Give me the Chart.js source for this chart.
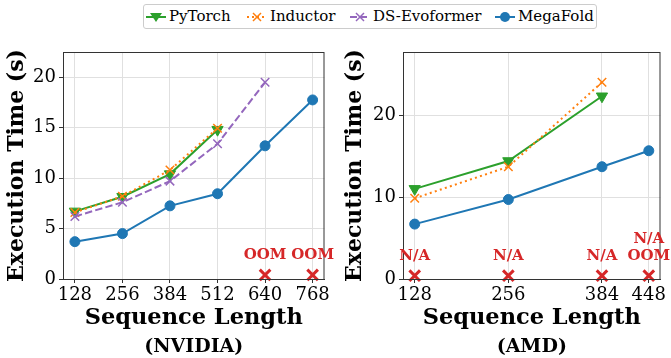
<!DOCTYPE html>
<html>
<head>
<meta charset="utf-8">
<script src="https://cdn.jsdelivr.net/npm/chart.js@4"></script>
<style>
  body { margin: 0; width: 671px; height: 358px; background: #fff; position: relative; overflow: hidden; font-family: "DejaVu Serif", serif; }
  canvas { position: absolute; top: 0; }
  #left { left: 0; }
  #right { left: 335px; }
  #legend { position: absolute; left: 143px; top: 4px; width: 452px; height: 23px; border: 1px solid #ccc; border-radius: 3px; background: #fff; z-index: 2; font-size: 15px; }
  .item { position: absolute; top: 2px; white-space: nowrap; line-height: 19px; }
  .item svg { position: absolute; left: 0; top: 1px; }
  .item span { position: absolute; left: 23px; }
</style>
</head>
<body>
<div id="legend"></div>
<canvas id="left" width="335" height="358"></canvas>
<canvas id="right" width="336" height="358"></canvas>
<script>
  // NVIDIA
  const nvX = [128, 256, 384, 512, 640, 768];
  const nvPyTorch = [6.7, 8.15, 10.4, 14.8];
  const nvInductor = [6.6, 8.2, 10.8, 14.95];
  const nvEvoformer = [6.2, 7.6, 9.7, 13.4, 19.5];
  const nvMegaFold = [3.7, 4.5, 7.25, 8.45, 13.2, 17.75];
  const nvMarkX = [640, 768];
  const nvMarkLabels = [['OOM'], ['OOM']];

  // AMD
  const amdX = [128, 256, 384, 448];
  const amdPyTorch = [11.0, 14.4, 22.3];
  const amdInductor = [9.85, 13.7, 24.0];
  const amdMegaFold = [6.7, 9.7, 13.7, 15.65];
  const amdMarkX = [128, 256, 384, 448];
  const amdMarkLabels = [['N/A'], ['N/A'], ['N/A'], ['N/A', 'OOM']];

  const markY = 0.4;
  const C = { pytorch: '#2ca02c', inductor: '#ff7f0e', evo: '#9467bd', mega: '#1f77b4', red: '#d62728' };
  const FONT = 'DejaVu Serif';

  const pts = (xs, ys) => ys.map((y, i) => ({ x: xs[i], y: y }));

  function series(label, xs, ys, color, style, dash, order) {
    return {
      label: label,
      data: pts(xs, ys),
      borderColor: color,
      backgroundColor: color,
      borderWidth: 2,
      borderDash: dash,
      pointStyle: style,
      pointRotation: style === 'triangle' ? 180 : 0,
      pointRadius: style === 'circle' ? 5 : (style === 'triangle' ? 6.5 : 6),
      pointBorderWidth: style === 'crossRot' ? 1.5 : 1,
      tension: 0,
      order: order,
    };
  }

  function marks(xs, labels) {
    return {
      label: 'marks',
      data: xs.map(x => ({ x: x, y: markY })),
      showLine: false,
      pointStyle: 'crossRot',
      pointRadius: 7.5,
      pointBorderWidth: 3,
      borderColor: C.red,
      backgroundColor: C.red,
      clip: false,
      order: 0,
      markLabels: labels,
    };
  }

  // frame round the plot area, red OOM / N/A labels, subtitle under the axis title
  const extras = {
    id: 'extras',
    afterDatasetsDraw(chart, args, opts) {
      const { ctx, chartArea: a } = chart;
      ctx.save();
      ctx.strokeStyle = '#333';
      ctx.lineWidth = 1;
      ctx.strokeRect(a.left + 0.5, a.top + 0.5, a.right - a.left - 1, a.bottom - a.top);
      ctx.textAlign = 'center';
      ctx.textBaseline = 'middle';
      chart.data.datasets.forEach((ds, i) => {
        if (!ds.markLabels) return;
        const meta = chart.getDatasetMeta(i);
        ctx.fillStyle = C.red;
        ctx.font = 'bold 15px "' + FONT + '"';
        meta.data.forEach((p, j) => {
          const lines = ds.markLabels[j];
          lines.forEach((t, k) => {
            ctx.fillText(t, p.x, p.y - 20 - (lines.length - 1 - k) * 17);
          });
        });
      });
      ctx.fillStyle = '#000';
      ctx.font = 'bold 19px "' + FONT + '"';
      ctx.fillText(opts.subtitle, (a.left + a.right) / 2, 347);
      ctx.restore();
    }
  };

  function makeChart(id, datasets, xMin, xMax, xTicks, yMax, yStep, yWidth, yTitlePad, padRight, subtitle) {
    return new Chart(document.getElementById(id), {
      type: 'line',
      data: { datasets: datasets },
      options: {
        responsive: false,
        animation: false,
        layout: { padding: { top: 52, right: padRight, left: 0, bottom: 0 } },
        plugins: {
          legend: { display: false },
          tooltip: { enabled: false },
          extras: { subtitle: subtitle },
        },
        scales: {
          x: {
            type: 'linear',
            min: xMin,
            max: xMax,
            afterBuildTicks: s => { s.ticks = xTicks.map(v => ({ value: v })); },
            afterFit: s => { s.height = 79; },
            ticks: { color: '#000', font: { family: FONT, size: 18 }, padding: 2, maxRotation: 0 },
            grid: { color: '#e0e0e0', borderDash: [2, 2], tickLength: 4, tickColor: '#333', tickBorderDash: [] },
            border: { color: '#333', width: 1 },
            title: {
              display: true,
              text: 'Sequence Length',
              color: '#000',
              font: { family: FONT, size: 22.5, weight: 'bold', lineHeight: 1.2 },
              padding: { top: 0, bottom: 26 },
            },
          },
          y: {
            min: 0,
            max: yMax,
            afterBuildTicks: s => { s.ticks = s.ticks.filter(t => t.value % yStep === 0); },
            afterFit: s => { s.width = yWidth; },
            ticks: { stepSize: yStep, color: '#000', font: { family: FONT, size: 18 }, padding: 3 },
            grid: { color: '#e0e0e0', borderDash: [2, 2], tickLength: 4, tickColor: '#333', tickBorderDash: [] },
            border: { color: '#333', width: 1 },
            title: {
              display: true,
              text: 'Execution Time (s)',
              color: '#000',
              font: { family: FONT, size: 22, weight: 'bold', lineHeight: 1.2 },
              padding: { top: yTitlePad, bottom: 0 },
            },
          },
        },
      },
      plugins: [extras],
    });
  }

  makeChart('left', [
    series('PyTorch', nvX, nvPyTorch, C.pytorch, 'triangle', [], 4),
    series('Inductor', nvX, nvInductor, C.inductor, 'crossRot', [2, 3.3], 3),
    series('DS-Evoformer', nvX, nvEvoformer, C.evo, 'crossRot', [7.4, 3.2], 2),
    series('MegaFold', nvX, nvMegaFold, C.mega, 'circle', [], 1),
    marks(nvMarkX, nvMarkLabels),
  ], 96, 800, nvX, 22.5, 5, 63, 4, 10, '(NVIDIA)');

  makeChart('right', [
    series('PyTorch', amdX, amdPyTorch, C.pytorch, 'triangle', [], 4),
    series('Inductor', amdX, amdInductor, C.inductor, 'crossRot', [2, 3.3], 3),
    series('MegaFold', amdX, amdMegaFold, C.mega, 'circle', [], 1),
    marks(amdMarkX, amdMarkLabels),
  ], 112, 464, amdX, 27.7, 10, 68, 7, 7, '(AMD)');

  // shared legend
  const legendItems = [
    { label: 'PyTorch', color: C.pytorch, marker: 'tri', dash: '', left: 2 },
    { label: 'Inductor', color: C.inductor, marker: 'x', dash: '2,3', left: 103 },
    { label: 'DS-Evoformer', color: C.evo, marker: 'x', dash: '7,3', left: 206 },
    { label: 'MegaFold', color: C.mega, marker: 'dot', dash: '', left: 351 },
  ];
  const legend = document.getElementById('legend');
  legendItems.forEach(it => {
    let m = '';
    if (it.marker === 'tri') m = `<polygon points="4,5 16,5 10,14" fill="${it.color}"/>`;
    if (it.marker === 'x') m = `<path d="M6,5 L14,13 M14,5 L6,13" stroke="${it.color}" stroke-width="1.5"/>`;
    if (it.marker === 'dot') m = `<circle cx="10" cy="9" r="5" fill="${it.color}"/>`;
    const div = document.createElement('div');
    div.className = 'item';
    div.style.left = it.left + 'px';
    div.innerHTML = `<svg width="20" height="18"><line x1="0" y1="9" x2="20" y2="9" stroke="${it.color}" stroke-width="2" stroke-dasharray="${it.dash}"/>${m}</svg><span>${it.label}</span>`;
    legend.appendChild(div);
  });
</script>
</body>
</html>
